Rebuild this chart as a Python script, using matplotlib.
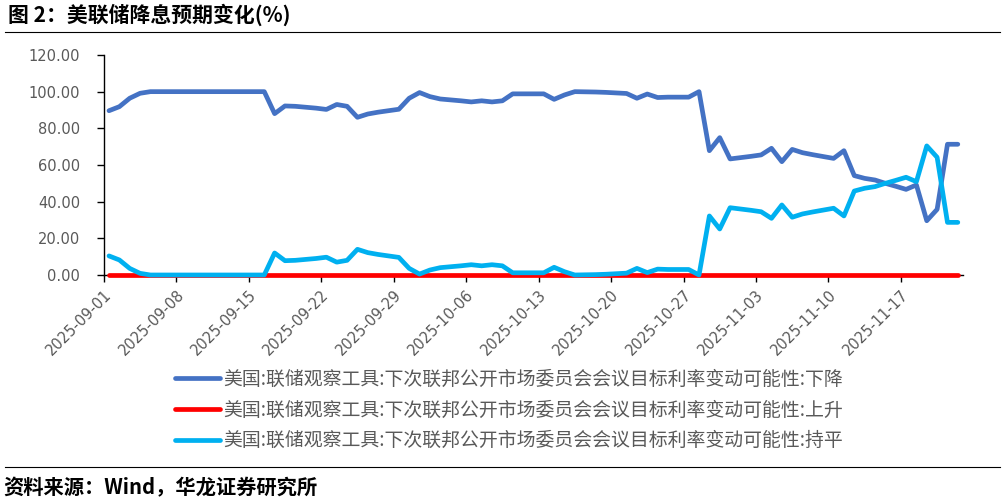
import pandas as pd
import matplotlib
matplotlib.use('Agg')
import matplotlib.pyplot as plt
import matplotlib.dates as mdates
from matplotlib.lines import Line2D

plt.rcParams['font.family'] = ['Noto Sans CJK SC', 'DejaVu Sans']

# daily observations, 2025-09-01 .. 2025-11-22
dates = pd.date_range('2025-09-01', '2025-11-22', freq='D')

cut = [89.6, 91.8, 96.4, 99.1, 100, 100, 100, 100, 100, 100,
       100, 100, 100, 100, 100, 100, 88.0, 92.2, 92.0, 91.5,
       91.0, 90.3, 93.0, 92.0, 86.0, 87.8, 88.8, 89.6, 90.4, 96.4,
       99.5, 97.3, 96.0, 95.5, 95.0, 94.4, 95.0, 94.4, 95.0, 98.8,
       98.8, 98.8, 98.8, 95.8, 98.2, 100, 99.9, 99.8, 99.6, 99.3,
       99.0, 96.4, 98.7, 96.8, 97.0, 97.0, 97.0, 100, 67.8, 74.9,
       63.3, 64.0, 64.7, 65.5, 69.1, 61.8, 68.5, 66.7, 65.6, 64.6,
       63.6, 67.8, 54.2, 52.7, 51.8, 50.0, 48.4, 46.7, 49.1, 29.6,
       35.8, 71.3, 71.3]

hike = [0.0] * 83

hold = [10.4, 8.2, 3.6, 0.9, 0, 0, 0, 0, 0, 0,
        0, 0, 0, 0, 0, 0, 12.0, 7.8, 8.0, 8.5,
        9.0, 9.7, 7.0, 8.0, 14.0, 12.2, 11.2, 10.4, 9.6, 3.6,
        0.5, 2.7, 4.0, 4.5, 5.0, 5.6, 5.0, 5.6, 5.0, 1.2,
        1.2, 1.2, 1.2, 4.2, 1.8, 0, 0.1, 0.2, 0.4, 0.7,
        1.0, 3.6, 1.3, 3.2, 3.0, 3.0, 3.0, 0, 32.2, 25.1,
        36.7, 36.0, 35.3, 34.5, 30.9, 38.2, 31.5, 33.3, 34.4, 35.4,
        36.4, 32.2, 45.8, 47.3, 48.2, 50.0, 51.6, 53.3, 50.9, 70.4,
        64.2, 28.7, 28.7]

tick_dates = pd.date_range('2025-09-01', '2025-11-17', freq='7D')
yticks = [0, 20, 40, 60, 80, 100, 120]

prefix = '美国:联储观察工具:下次联邦公开市场委员会会议目标利率变动可能性:'
names = [prefix + '下降', prefix + '上升', prefix + '持平']
colors = ['#4472C4', '#FF0000', '#00B0F0']

fig = plt.figure(figsize=(10.07, 5.03), dpi=100)
ax = fig.add_axes([0.1031, 0.4533, 0.8532, 0.4374])

lines = []
for vals, c in zip([cut, hike, hold], colors):
    ln, = ax.plot(dates, vals, color=c, lw=3.4, clip_on=False,
                  solid_joinstyle='round', solid_capstyle='round', zorder=3)
    lines.append(ln)

xnum = mdates.date2num(dates)
ax.set_xlim(xnum[0] - 0.5, xnum[-1] + 0.5)
ax.set_xticks(mdates.date2num(tick_dates) - 0.5)
ax.set_xticklabels(tick_dates.strftime('%Y-%m-%d'), rotation=45,
                   ha='right', va='top', rotation_mode='anchor',
                   family='DejaVu Sans')
ax.set_ylim(0, 120)
ax.set_yticks(yticks)
ax.set_yticklabels(['%.2f' % v for v in yticks], family='DejaVu Sans')

for s in ['top', 'right']:
    ax.spines[s].set_visible(False)
for s in ['left', 'bottom']:
    ax.spines[s].set_color('black')
    ax.spines[s].set_linewidth(1)
ax.tick_params(axis='both', direction='out', length=5, width=1,
               color='black', labelcolor='#595959', labelsize=10.5)
ax.tick_params(axis='y', pad=12)
ax.tick_params(axis='x', pad=4)

fig.legend(lines, names, loc='center', bbox_to_anchor=(0.5055, 0.185),
           frameon=False, fontsize=13.6, handlelength=2.4, handletextpad=0.16,
           labelspacing=0.52, labelcolor='#595959', borderpad=0)

fig.text(8 / 1007, 1 - 15 / 503, '图 2：美联储降息预期变化(%)', fontsize=15,
         fontweight='bold', ha='left', va='center', color='black')
fig.add_artist(Line2D([5 / 1007, 1000 / 1007], [1 - 31.5 / 503] * 2,
                      color='black', lw=0.8))
fig.add_artist(Line2D([5 / 1007, 1000 / 1007], [1 - 467 / 503] * 2,
                      color='black', lw=0.8))
fig.text(3 / 1007, 1 - 488 / 503, '资料来源：Wind，华龙证券研究所', fontsize=14.6,
         fontweight='bold', ha='left', va='center', color='black')

fig.savefig('out.png', dpi=100, facecolor='white')
